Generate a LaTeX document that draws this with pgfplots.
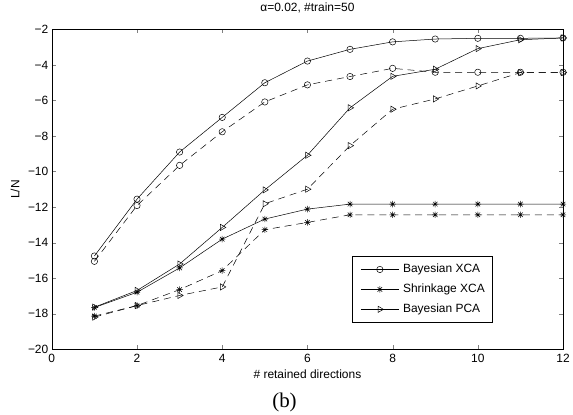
\documentclass[border=0pt]{standalone}
\usepackage{fontspec}
\setmainfont{Liberation Sans}
\newfontfamily\serif{Liberation Serif}
\usepackage{pgfplots}
\pgfplotsset{compat=1.18}

% matlab style asterisk: + and x together
\pgfdeclareplotmark{mstar}{%
  \pgfpathmoveto{\pgfpoint{-\pgfplotmarksize}{0pt}}\pgfpathlineto{\pgfpoint{\pgfplotmarksize}{0pt}}%
  \pgfpathmoveto{\pgfpoint{0pt}{-\pgfplotmarksize}}\pgfpathlineto{\pgfpoint{0pt}{\pgfplotmarksize}}%
  \pgfpathmoveto{\pgfpoint{-.707\pgfplotmarksize}{-.707\pgfplotmarksize}}\pgfpathlineto{\pgfpoint{.707\pgfplotmarksize}{.707\pgfplotmarksize}}%
  \pgfpathmoveto{\pgfpoint{-.707\pgfplotmarksize}{.707\pgfplotmarksize}}\pgfpathlineto{\pgfpoint{.707\pgfplotmarksize}{-.707\pgfplotmarksize}}%
  \pgfusepathqstroke}

\begin{document}
\begin{tikzpicture}
\begin{axis}[
  scale only axis, width=513pt, height=321pt,
  xmin=0, xmax=12, ymin=-20, ymax=-2,
  xtick={0,2,...,12}, xticklabels={0,2,4,6,8,10,12},
  ytick={-20,-18,...,-2},
  yticklabels={−20,−18,−16,−14,−12,−10,−8,−6,−4,−2},
  tick align=inside, major tick length=4pt,
  axis line style={line width=0.6pt},
  ticklabel style={font=\fontsize{12}{14}\selectfont},
  xticklabel style={yshift=-1.5pt},
  title={α=0.02, \#train=50},
  title style={font=\fontsize{12}{14}\selectfont, at={(axis description cs:0.5,1.047)}, anchor=center},
  xlabel={\# retained directions},
  xlabel style={font=\fontsize{12}{14}\selectfont, at={(axis description cs:0.5,-0.078)}, anchor=center},
  ylabel={L/N},
  ylabel style={font=\fontsize{12}{14}\selectfont, at={(axis description cs:-0.072,0.5)}, anchor=center},
  every axis plot/.append style={black, line width=0.5pt},
  legend style={at={(0.588,0.291)}, anchor=north west, draw=black, line width=0.6pt,
    font=\fontsize{12}{14}\selectfont, row sep=8pt, inner xsep=8pt, inner ysep=7pt,
    nodes={inner sep=0pt, text height=9pt, text depth=3pt},
    /tikz/every odd column/.append style={column sep=4pt}},
  legend cell align=left,
  legend image code/.code={%
    \draw[mark repeat=2,mark phase=2] plot coordinates {(0pt,0pt)(19pt,0pt)(38pt,0pt)};},
]
% solid: legend entries
\addplot[mark=o, mark size=3.2pt] coordinates {
  (1,-14.75) (2,-11.55) (3,-8.9) (4,-6.95) (5,-5.0) (6,-3.78)
  (7,-3.12) (8,-2.7) (9,-2.54) (10,-2.5) (11,-2.5) (12,-2.48)};
\addplot[mark=mstar, mark size=3.2pt] coordinates {
  (1,-17.65) (2,-16.79) (3,-15.42) (4,-13.8) (5,-12.67) (6,-12.11)
  (7,-11.83) (8,-11.83) (9,-11.83) (10,-11.83) (11,-11.83) (12,-11.83)};
\addplot[mark=triangle, mark size=3.6pt, mark options={rotate=-90}] coordinates {
  (1,-17.63) (2,-16.69) (3,-15.2) (4,-13.14) (5,-11.03) (6,-9.08)
  (7,-6.41) (8,-4.64) (9,-4.24) (10,-3.08) (11,-2.58) (12,-2.48)};
\legend{Bayesian XCA, Shrinkage XCA, Bayesian PCA}
% dashed
\addplot[dash pattern=on 7pt off 5pt, mark=o, mark size=3.2pt, mark options={solid}, forget plot] coordinates {
  (1,-15.05) (2,-11.91) (3,-9.65) (4,-7.76) (5,-6.08) (6,-5.12)
  (7,-4.65) (8,-4.19) (9,-4.41) (10,-4.41) (11,-4.41) (12,-4.41)};
\addplot[dash pattern=on 7pt off 5pt, mark=mstar, mark size=3.2pt, mark options={solid}, forget plot] coordinates {
  (1,-18.13) (2,-17.54) (3,-16.64) (4,-15.57) (5,-13.27) (6,-12.86)
  (7,-12.43) (8,-12.43) (9,-12.43) (10,-12.43) (11,-12.43) (12,-12.43)};
\addplot[dash pattern=on 7pt off 5pt, mark=triangle, mark size=3.6pt, mark options={solid, rotate=-90}, forget plot] coordinates {
  (1,-18.19) (2,-17.54) (3,-16.97) (4,-16.49) (5,-11.81) (6,-10.99)
  (7,-8.54) (8,-6.49) (9,-5.91) (10,-5.18) (11,-4.43) (12,-4.43)};
\end{axis}
\node[font=\serif\fontsize{21}{24}\selectfont] at ([xshift=-23pt,yshift=-53pt]current axis.south) {(b)};
\path (current axis.south west) ++(-52pt,-64pt) rectangle ++(573pt,414pt);
\end{tikzpicture}
\end{document}
